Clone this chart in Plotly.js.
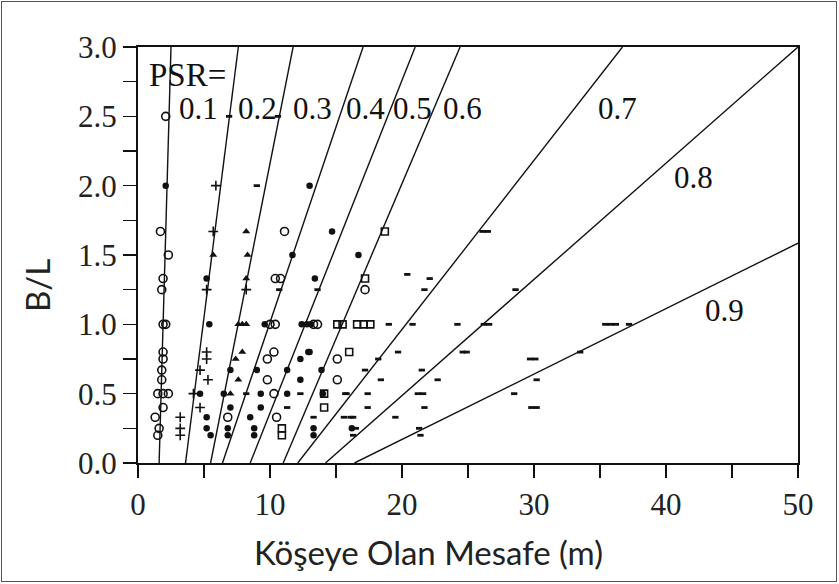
<!DOCTYPE html>
<html>
<head>
<meta charset="utf-8">
<script src="https://cdn.plot.ly/plotly-3.0.1.min.js"></script>
<style>
html,body{margin:0;padding:0;background:#fff;}
#wrap{position:relative;width:839px;height:584px;}
#chart{width:839px;height:584px;}
#frame{position:absolute;left:1px;top:1px;width:834px;height:579px;border:1.5px solid #555;pointer-events:none;}
</style>
</head>
<body>
<div id="wrap"><div id="chart"></div><div id="frame"></div></div>
<script>
// PSR reference lines (start at B/L = 0, end at top/right edge)
const psrLabels = ['0.1','0.2','0.3','0.4','0.5','0.6','0.7','0.8','0.9'];
const lineStartX = [1.6, 3.6, 5.5, 6.4, 8.5, 11.0, 12.1, 14.2, 16.4];
const lineEndX   = [2.5, 7.6, 11.75, 17.05, 21.0, 24.4, 36.7, 50, 50];
const lineEndY   = [3.0, 3.0, 3.0, 3.0, 3.0, 3.0, 3.0, 3.0, 1.585];
// label positions for PSR values
const labelX = [4.55, 9.05, 13.2, 17.2, 20.8, 24.6, 36.3, 42.1, 44.4];
const labelY = [2.56, 2.56, 2.56, 2.56, 2.56, 2.56, 2.56, 2.06, 1.10];

// observed points, by marker type
const openCircX = [2.1,2.3,1.9,1.7,11.1,10.4,10.8,1.8,1.9,2.1,10.0,10.4,13.3,13.6,1.9,1.9,10.3,9.8,15.1,1.8,1.8,9.8,15.1,1.5,1.9,2.3,10.3,1.9,1.3,6.8,10.5,1.6,1.5,17.2];
const openCircY = [2.5,1.5,1.33,1.67,1.67,1.33,1.33,1.25,1.0,1.0,1.0,1.0,1.0,1.0,0.8,0.75,0.8,0.75,0.75,0.67,0.6,0.6,0.6,0.5,0.5,0.5,0.5,0.4,0.33,0.33,0.33,0.25,0.2,1.25];

const dotX = [2.1,13.0,14.7,11.7,16.7,5.2,13.4,5.4,9.6,12.4,12.8,13.1,13.0,12.3,9.0,11.3,13.9,7.0,12.3,4.7,6.5,9.3,11.3,14.0,7.0,9.3,5.2,8.5,5.2,6.8,8.8,13.3,16.2,5.5,6.8,8.8,13.3,12.9];
const dotY = [2.0,2.0,1.67,1.5,1.5,1.33,1.33,1.0,1.0,1.0,1.0,1.0,0.8,0.75,0.67,0.67,0.67,0.67,0.6,0.5,0.5,0.5,0.5,0.5,0.4,0.4,0.33,0.33,0.25,0.25,0.25,0.25,0.25,0.2,0.2,0.2,0.2,0.8];

const triX = [8.2,5.7,8.3,8.2,7.6,7.9,8.2,7.9,7.4,7.6,7.0];
const triY = [1.67,1.5,1.5,1.33,1.0,1.0,1.0,0.8,0.75,0.6,0.5];

const plusX = [5.9,5.7,5.2,8.2,5.2,5.2,5.3,4.2,4.7,3.2,3.2,3.2,4.7];
const plusY = [2.0,1.67,1.25,1.25,0.8,0.75,0.6,0.5,0.4,0.33,0.25,0.2,0.67];

const squareX = [18.7,17.2,15.1,15.5,16.6,17.1,17.6,16.0,14.1,14.1,10.9,10.9];
const squareY = [1.67,1.33,1.0,1.0,1.0,1.0,1.0,0.8,0.5,0.4,0.25,0.2];

const dashX = [6.9,10.6,9.0,10.7,13.6,20.4,22.1,21.7,26.1,26.5,28.6,19.0,20.8,24.2,26.2,26.6,35.4,35.8,36.2,37.2,19.7,24.6,24.9,33.5,18.2,29.7,30.1,17.2,21.5,18.4,22.7,30.2,15.8,17.4,21.2,21.6,28.5,17.4,21.7,29.8,30.2,15.6,16.3,19.5,16.5,21.3,16.3,21.4,8.2,12.3,15.7,11.3,13.3,16.1];
const dashY = [2.5,2.5,2.0,1.25,1.25,1.36,1.33,1.25,1.67,1.67,1.25,1.0,1.0,1.0,1.0,1.0,1.0,1.0,1.0,1.0,0.8,0.8,0.8,0.8,0.75,0.75,0.75,0.67,0.67,0.6,0.6,0.6,0.5,0.5,0.5,0.5,0.5,0.4,0.4,0.4,0.4,0.33,0.33,0.33,0.25,0.25,0.2,0.2,0.5,0.5,0.5,0.4,0.33,0.33];

const traces = [];
for (let i = 0; i < psrLabels.length; i++) {
  traces.push({
    type: 'scatter', mode: 'lines',
    x: [lineStartX[i], lineEndX[i]], y: [0, lineEndY[i]],
    line: {color: '#111', width: 1.4},
    hoverinfo: 'skip', showlegend: false
  });
}
const mk = (x, y, symbol, size, lw) => ({
  type: 'scatter', mode: 'markers', x: x, y: y, showlegend: false,
  marker: {symbol: symbol, size: size, color: '#111', line: {color: '#111', width: lw}}
});
traces.push(mk(openCircX, openCircY, 'circle-open', 8, 1.6));
traces.push(mk(dotX, dotY, 'circle', 6.5, 0));
traces.push(mk(triX, triY, 'triangle-up', 7, 0));
traces.push(mk(plusX, plusY, 'cross-thin-open', 7, 1.6));
traces.push(mk(squareX, squareY, 'square-open', 7, 1.6));
traces.push(mk(dashX, dashY, 'line-ew-open', 4.5, 2.8));

const serif = 'Liberation Serif, Times New Roman, serif';
const annotations = psrLabels.map((t, i) => ({
  x: labelX[i], y: labelY[i], xref: 'x', yref: 'y', text: t, showarrow: false,
  font: {family: serif, size: 31, color: '#111'}, xanchor: 'center', yanchor: 'middle'
}));
annotations.push({x: 3.75, y: 2.8, xref: 'x', yref: 'y', text: 'PSR=', showarrow: false,
  font: {family: serif, size: 33, color: '#111'}, xanchor: 'center', yanchor: 'middle'});
annotations.push({x: 428, y: 552, xref: 'paper', yref: 'paper', text: 'Köşeye Olan Mesafe (m)', showarrow: false,
  font: {family: 'Lato, Open Sans, sans-serif', size: 33, color: '#222'}, xanchor: 'center', yanchor: 'middle'});
annotations.push({x: 37, y: 286, xref: 'paper', yref: 'paper', text: 'B/L', showarrow: false, textangle: -90,
  font: {family: 'Lato, Open Sans, sans-serif', size: 33, color: '#222'}, xanchor: 'center', yanchor: 'middle'});

// convert pixel-placed axis titles into paper coordinates
const W = 839, H = 584, L = 138, R = 41, T = 47, B = 121;
const pw = W - L - R, ph = H - T - B;
for (const a of annotations) {
  if (a.xref === 'paper') {
    a.x = (a.x - L) / pw;
    a.y = 1 - (a.y - T) / ph;
  }
}

const axisCommon = {
  showline: true, mirror: true, linecolor: '#111', linewidth: 2,
  ticks: 'outside', ticklen: 13, tickwidth: 1.6, tickcolor: '#111',
  showgrid: false, zeroline: false,
  tickfont: {family: serif, size: 31, color: '#222'}
};
const layout = {
  width: W, height: H,
  margin: {l: L, r: R, t: T, b: B, pad: 0},
  paper_bgcolor: '#fff', plot_bgcolor: '#fff',
  showlegend: false,
  xaxis: Object.assign({}, axisCommon, {range: [0, 50], dtick: 10, tick0: 0,
    minor: {dtick: 5, ticks: 'outside', ticklen: 13, tickwidth: 1.6, tickcolor: '#111', showgrid: false}}),
  yaxis: Object.assign({}, axisCommon, {range: [0, 3], dtick: 0.5, tick0: 0, tickformat: '.1f',
    minor: {dtick: 0.25, ticks: 'outside', ticklen: 13, tickwidth: 1.6, tickcolor: '#111', showgrid: false}}),
  annotations: annotations
};
Plotly.newPlot('chart', traces, layout, {displayModeBar: false, staticPlot: true});
</script>
</body>
</html>
